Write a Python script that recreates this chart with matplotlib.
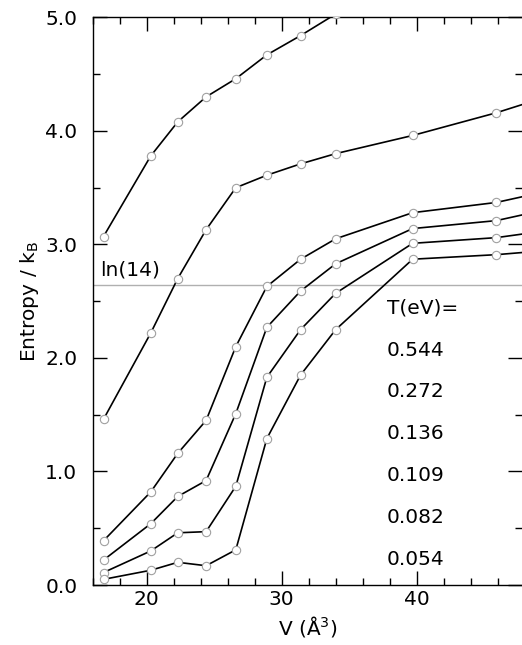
import numpy as np
import matplotlib
matplotlib.use("Agg")
import matplotlib.pyplot as plt
from matplotlib.ticker import MultipleLocator, FormatStrFormatter

# volumes (A^3); last one lies just past the right edge of the frame
volume = [16.8, 20.3, 22.3, 24.4, 26.6, 28.9, 31.4, 34.0, 39.7, 45.9, 52.0]

temps = ["0.544", "0.272", "0.136", "0.109", "0.082", "0.054"]

s_0544 = [3.07, 3.78, 4.08, 4.30, 4.46, 4.67, 4.84, 5.03, np.nan, np.nan, np.nan]
s_0272 = [1.46, 2.22, 2.70, 3.13, 3.50, 3.61, 3.71, 3.80, 3.96, 4.16, 4.39]
s_0136 = [0.39, 0.82, 1.16, 1.45, 2.10, 2.63, 2.87, 3.05, 3.28, 3.37, 3.53]
s_0109 = [0.22, 0.54, 0.78, 0.92, 1.51, 2.27, 2.59, 2.83, 3.14, 3.21, 3.37]
s_0082 = [0.11, 0.30, 0.46, 0.47, 0.87, 1.83, 2.25, 2.57, 3.01, 3.06, 3.16]
s_0054 = [0.05, 0.13, 0.20, 0.17, 0.31, 1.29, 1.85, 2.25, 2.87, 2.91, 2.97]

series = [s_0544, s_0272, s_0136, s_0109, s_0082, s_0054]

ln14 = np.log(14)

FS = 14.5
plt.rcParams["font.family"] = ["DejaVu Sans"]
plt.rcParams["mathtext.fontset"] = "dejavusans"

fig = plt.figure(figsize=(5.22, 6.45), dpi=100)
ax = fig.add_axes([0.1776, 0.093, 0.8224, 0.880])

ax.axhline(ln14, color="#b0b0b0", lw=1.0, zorder=1)

for s in series:
    ax.plot(volume, s, color="black", lw=1.2, marker="o", ms=6,
            mfc="white", mec="#a0a0a0", mew=0.8, zorder=3)

ax.set_xlim(16.0, 47.8)
ax.set_ylim(0.0, 5.0)

ax.xaxis.set_major_locator(MultipleLocator(10))
ax.xaxis.set_minor_locator(MultipleLocator(2))
ax.yaxis.set_major_locator(MultipleLocator(1))
ax.yaxis.set_minor_locator(MultipleLocator(0.5))
ax.yaxis.set_major_formatter(FormatStrFormatter("%.1f"))

ax.tick_params(which="both", direction="in", top=True, right=True,
               labelsize=FS, width=1.0, color="black")
ax.tick_params(which="major", length=10)
ax.tick_params(which="minor", length=5)
ax.tick_params(axis="x", which="major", pad=3.5)
ax.tick_params(axis="y", which="major", pad=11)
ax.spines["right"].set_visible(False)
for side in ["left", "bottom", "top"]:
    ax.spines[side].set_linewidth(1.0)

ax.set_xlabel("V (Å$^3$)", fontsize=FS, labelpad=4)
ax.set_ylabel("Entropy / k$_\\mathrm{B}$", fontsize=FS, labelpad=3)

ax.text(16.55, ln14 + 0.05, "ln(14)", fontsize=FS, ha="left", va="bottom")
ax.text(37.8, 2.44, "T(eV)=", fontsize=FS, ha="left", va="center")
for i, t in enumerate(temps):
    ax.text(37.8, 2.07 - i * 0.369, t, fontsize=FS, ha="left", va="center")

fig.savefig("out.png", dpi=100)
